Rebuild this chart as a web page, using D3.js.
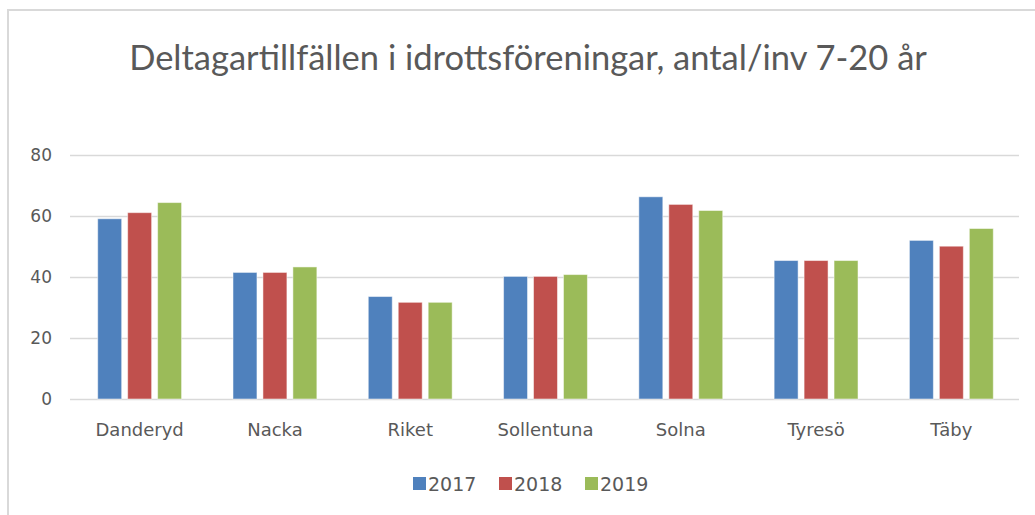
<!DOCTYPE html>
<html>
<head>
<meta charset="utf-8">
<script src="https://cdn.jsdelivr.net/npm/d3@7"></script>
<style>
  body { margin: 0; background: #fff; }
  svg { display: block; }
</style>
</head>
<body>
<svg class="chart"></svg>
<script>
var categories = ["Danderyd", "Nacka", "Riket", "Sollentuna", "Solna", "Tyresö", "Täby"];
var keys = ["2017", "2018", "2019"];
var v2017 = [59.1, 41.5, 33.6, 40.2, 66.3, 45.4, 52.0];
var v2018 = [61.1, 41.5, 31.7, 40.2, 63.8, 45.4, 50.1];
var v2019 = [64.4, 43.3, 31.7, 40.8, 61.8, 45.4, 55.9];
var yTicks = [0, 20, 40, 60, 80];
var title = "Deltagartillfällen i idrottsföreningar, antal/inv 7-20 år";

var series = {"2017": v2017, "2018": v2018, "2019": v2019};
var data = categories.map(function(c, i) {
    var row = {name: c};
    keys.forEach(function(k) { row[k] = series[k][i]; });
    return row;
});

var W = 1035, H = 515;
var svg = d3.select(".chart").attr("width", W).attr("height", H);

// chart frame
svg.append("rect")
    .attr("x", 8).attr("y", 10)
    .attr("width", W + 10).attr("height", H + 10)
    .attr("fill", "#fff")
    .attr("stroke", "#d9d9d9")
    .attr("stroke-width", 2);

var x0 = d3.scaleBand()
    .domain(categories)
    .range([72, 1019])
    .paddingInner(0.38)
    .paddingOuter(0.19);

var x1 = d3.scaleBand()
    .domain(keys)
    .range([0, x0.bandwidth()])
    .paddingInner(0.2);

var y = d3.scaleLinear()
    .domain([0, 80])
    .range([399, 155]);

var z = d3.scaleOrdinal()
    .domain(keys)
    .range(["#4f81bd", "#c0504d", "#9bbb59"]);

var textColor = "#595959";
var font = "'DejaVu Sans', Verdana, sans-serif";

// gridlines + y labels
var yAxis = svg.append("g")
    .attr("transform", "translate(72,0)")
    .call(d3.axisLeft(y).tickValues(yTicks).tickSize(-(1019 - 72)).tickPadding(20));
yAxis.select(".domain").remove();
yAxis.selectAll(".tick line").attr("stroke", "#d9d9d9").attr("stroke-width", 1.5).attr("x1", -2);
yAxis.selectAll(".tick text")
    .attr("fill", textColor)
    .attr("font-family", font)
    .attr("font-size", 17);

// bars
svg.append("g")
  .selectAll("g")
  .data(data)
  .enter().append("g")
    .attr("transform", function(d) { return "translate(" + x0(d.name) + ",0)"; })
  .selectAll("rect")
  .data(function(d) { return keys.map(function(k) { return {key: k, value: d[k]}; }); })
  .enter().append("rect")
    .attr("x", function(d) { return x1(d.key); })
    .attr("y", function(d) { return y(d.value); })
    .attr("width", x1.bandwidth())
    .attr("height", function(d) { return y(0) - y(d.value); })
    .attr("fill", function(d) { return z(d.key); })
    .attr("stroke", "#fff")
    .attr("stroke-opacity", 0.5)
    .attr("stroke-width", 1);

// x axis labels
var xAxis = svg.append("g")
    .attr("transform", "translate(0,399)")
    .call(d3.axisBottom(x0).tickSize(0).tickPadding(24));
xAxis.select(".domain").remove();
xAxis.selectAll(".tick text")
    .attr("fill", textColor)
    .attr("font-family", font)
    .attr("font-size", 18);

// title
svg.append("text")
    .attr("x", 528)
    .attr("y", 70)
    .attr("text-anchor", "middle")
    .attr("fill", textColor)
    .attr("font-family", "Lato, 'Open Sans', sans-serif")
    .attr("font-size", 34.5)
    .text(title);

// legend
var legend = svg.append("g")
    .attr("font-family", font)
    .attr("font-size", 19)
    .selectAll("g")
    .data(keys)
    .enter().append("g")
    .attr("transform", function(d, i) { return "translate(" + (413 + i * 86) + ",477)"; });

legend.append("rect")
    .attr("width", 13)
    .attr("height", 13)
    .attr("fill", z);

legend.append("text")
    .attr("x", 15)
    .attr("y", 7)
    .attr("dy", "0.35em")
    .attr("fill", textColor)
    .text(function(d) { return d; });
</script>
</body>
</html>
